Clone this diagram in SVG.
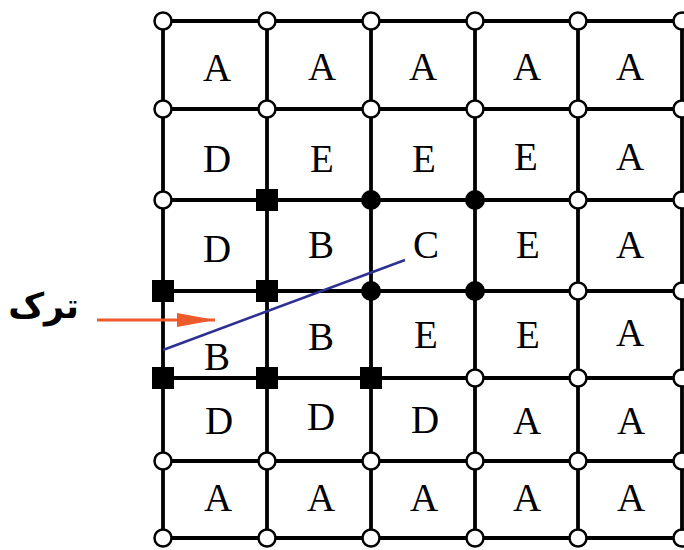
<svg xmlns="http://www.w3.org/2000/svg" width="684" height="550" viewBox="0 0 684 550">
<defs>
<style>
.g{stroke:#000;stroke-width:3.8;fill:none}
.o{fill:#fff;stroke:#000;stroke-width:2.5}
.f{fill:#000}
.t{font-family:"Liberation Serif","Times New Roman",serif;font-size:39px;fill:#000;text-anchor:middle}
.fa{font-family:"DejaVu Sans","Noto Sans",sans-serif;font-weight:bold;font-size:35px;fill:#000}
</style>
<marker id="ah" viewBox="0 0 38 14" refX="38" refY="7" markerWidth="38" markerHeight="14" markerUnits="userSpaceOnUse" orient="auto">
<path d="M0,0 L38,7 L0,14 z" fill="#EE5A2C"/>
</marker>
</defs>
<rect width="684" height="550" fill="#fff"/>
<g id="grid">
<path class="g" d="M163,21V538M267,21V538M371,21V538M475,21V538M578,21V538M682,21V538"/>
<path class="g" d="M163,21H684M163,109H684M163,200H684M163,291H684M163,378H684M163,461H684M163,538H684"/>
</g>
<g id="labels" class="t">
<text x="217" y="81">A</text><text x="322" y="80">A</text><text x="423" y="80">A</text><text x="527" y="80">A</text><text x="630" y="80">A</text>
<text x="217" y="172">D</text><text x="322" y="172">E</text><text x="424" y="172">E</text><text x="526" y="170">E</text><text x="630" y="170">A</text>
<text x="217" y="262">D</text><text x="321" y="258">B</text><text x="426" y="258">C</text><text x="528" y="258">E</text><text x="630" y="258">A</text>
<text x="217" y="370">B</text><text x="321" y="350">B</text><text x="426" y="348">E</text><text x="528" y="348">E</text><text x="630" y="346">A</text>
<text x="219" y="434">D</text><text x="321" y="430">D</text><text x="425" y="433">D</text><text x="527" y="434">A</text><text x="631" y="434">A</text>
<text x="218" y="511">A</text><text x="321" y="511">A</text><text x="424" y="511">A</text><text x="527" y="511">A</text><text x="631" y="511">A</text>
</g>
<g id="connectors">
<line x1="163" y1="350" x2="405" y2="260" stroke="#2E3192" stroke-width="2.5"/>
<line x1="97" y1="320" x2="215" y2="320" stroke="#EE5A2C" stroke-width="3" marker-end="url(#ah)"/>
</g>
<g id="arrow-label"><text class="fa" x="79" y="318" text-anchor="end">ترک</text></g>
<g id="open-nodes">
<circle class="o" cx="163" cy="21" r="8.5"/><circle class="o" cx="267" cy="21" r="8.5"/><circle class="o" cx="371" cy="21" r="8.5"/><circle class="o" cx="475" cy="21" r="8.5"/><circle class="o" cx="578" cy="21" r="8.5"/><circle class="o" cx="682" cy="21" r="8.5"/>
<circle class="o" cx="163" cy="109" r="8.5"/><circle class="o" cx="267" cy="109" r="8.5"/><circle class="o" cx="371" cy="109" r="8.5"/><circle class="o" cx="475" cy="109" r="8.5"/><circle class="o" cx="578" cy="109" r="8.5"/><circle class="o" cx="682" cy="109" r="8.5"/>
<circle class="o" cx="163" cy="200" r="8.5"/><circle class="o" cx="578" cy="200" r="8.5"/><circle class="o" cx="682" cy="200" r="8.5"/>
<circle class="o" cx="578" cy="291" r="8.5"/><circle class="o" cx="682" cy="291" r="8.5"/>
<circle class="o" cx="475" cy="378" r="8.5"/><circle class="o" cx="578" cy="378" r="8.5"/><circle class="o" cx="682" cy="378" r="8.5"/>
<circle class="o" cx="163" cy="461" r="8.5"/><circle class="o" cx="267" cy="461" r="8.5"/><circle class="o" cx="371" cy="461" r="8.5"/><circle class="o" cx="475" cy="461" r="8.5"/><circle class="o" cx="578" cy="461" r="8.5"/><circle class="o" cx="682" cy="461" r="8.5"/>
<circle class="o" cx="163" cy="538" r="8.5"/><circle class="o" cx="267" cy="538" r="8.5"/><circle class="o" cx="371" cy="538" r="8.5"/><circle class="o" cx="475" cy="538" r="8.5"/><circle class="o" cx="578" cy="538" r="8.5"/><circle class="o" cx="682" cy="538" r="8.5"/>
</g>
<g id="filled-circles" class="f">
<circle cx="371" cy="200" r="10"/><circle cx="475" cy="200" r="10"/>
<circle cx="371" cy="291" r="10"/><circle cx="475" cy="291" r="10"/>
</g>
<g id="squares" class="f">
<rect x="256" y="189" width="22" height="22"/>
<rect x="152" y="280" width="22" height="22"/><rect x="256" y="280" width="22" height="22"/>
<rect x="152" y="367" width="22" height="22"/><rect x="256" y="367" width="22" height="22"/><rect x="360" y="367" width="22" height="22"/>
</g>
</svg>
